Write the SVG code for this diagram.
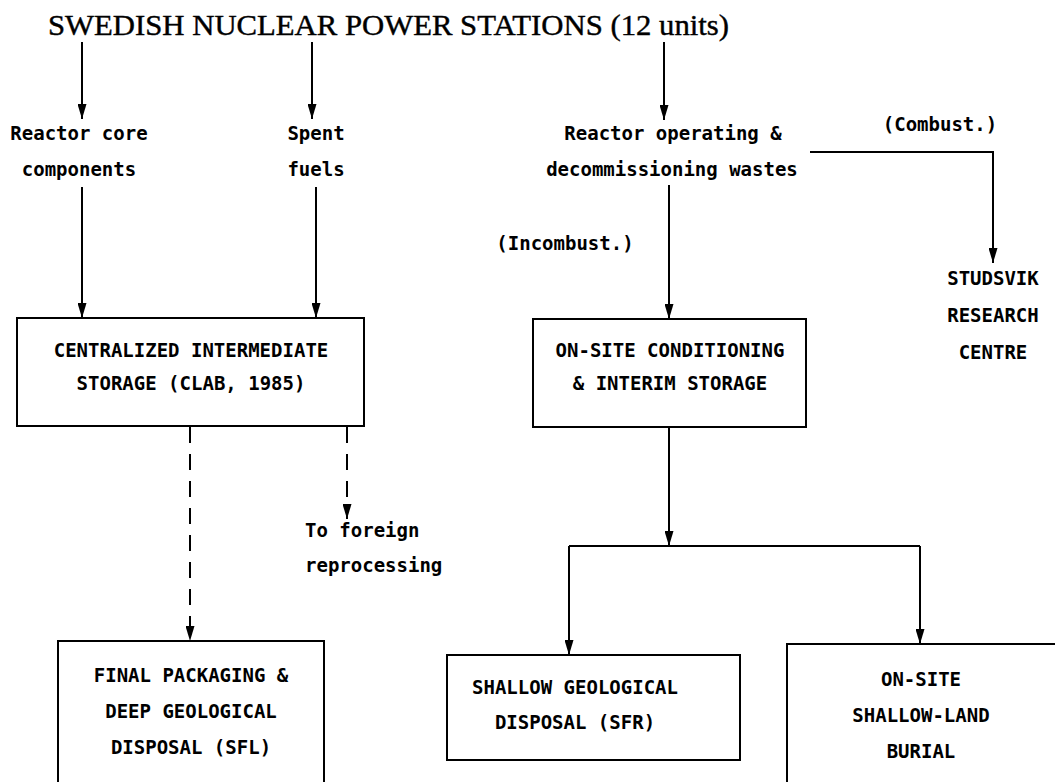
<svg xmlns="http://www.w3.org/2000/svg" width="1055" height="782" viewBox="0 0 1055 782">
  <style>
    .title { font-family: "Liberation Serif", "Times New Roman", serif; font-size: 29px; fill: #000; stroke: #000; stroke-width: 0.4; }
    .lbl { font-family: "DejaVu Sans Mono", "Liberation Mono", monospace; font-weight: bold; font-size: 19px; fill: #000; }
    .mid { text-anchor: middle; }
    .box { fill: #fff; stroke: #000; stroke-width: 2; }
    .wire { fill: none; stroke: #000; stroke-width: 2; }
    .dash { stroke-dasharray: 16 11; }
  </style>
  <defs>
    <marker id="arrow" viewBox="0 0 15 9" refX="15" refY="4.5" markerWidth="15" markerHeight="9" markerUnits="userSpaceOnUse" orient="auto">
      <path d="M0,0 L15,4.5 L0,9 z" fill="#000" stroke="none"/>
    </marker>
  </defs>
  <rect width="1055" height="782" fill="#fff"/>

  <text id="title" class="title" x="48" y="35" textLength="681" lengthAdjust="spacingAndGlyphs">SWEDISH NUCLEAR POWER STATIONS (12 units)</text>

  <g id="connectors">
    <line class="wire" x1="82" y1="42" x2="82" y2="119" marker-end="url(#arrow)"/>
    <line class="wire" x1="312" y1="42" x2="312" y2="119" marker-end="url(#arrow)"/>
    <line class="wire" x1="664" y1="42" x2="664" y2="120" marker-end="url(#arrow)"/>
    <line class="wire" x1="82" y1="187" x2="82" y2="318" marker-end="url(#arrow)"/>
    <line class="wire" x1="316" y1="187" x2="316" y2="318" marker-end="url(#arrow)"/>
    <line class="wire" x1="669" y1="185" x2="669" y2="319" marker-end="url(#arrow)"/>
    <polyline class="wire" points="810,152 993,152 993,263" marker-end="url(#arrow)"/>
    <line class="wire dash" x1="190" y1="427" x2="190" y2="641" marker-end="url(#arrow)"/>
    <line class="wire dash" x1="347" y1="427" x2="347" y2="519" marker-end="url(#arrow)"/>
    <line class="wire" x1="669" y1="428" x2="669" y2="546" marker-end="url(#arrow)"/>
    <line class="wire" x1="569" y1="546" x2="920" y2="546"/>
    <line class="wire" x1="569" y1="546" x2="569" y2="655" marker-end="url(#arrow)"/>
    <line class="wire" x1="920" y1="546" x2="920" y2="644" marker-end="url(#arrow)"/>
  </g>

  <g id="reactor-core">
    <text class="lbl mid" x="79" y="140">Reactor core</text>
    <text class="lbl mid" x="79" y="176">components</text>
  </g>
  <g id="spent-fuels">
    <text class="lbl mid" x="316" y="140">Spent</text>
    <text class="lbl mid" x="316" y="176">fuels</text>
  </g>
  <g id="operating-wastes">
    <text class="lbl mid" x="673" y="140">Reactor operating &amp;</text>
    <text class="lbl mid" x="672" y="176">decommissioning wastes</text>
  </g>
  <g id="combust-label">
    <text class="lbl mid" x="940" y="131">(Combust.)</text>
  </g>
  <g id="incombust-label">
    <text class="lbl mid" x="565" y="250">(Incombust.)</text>
  </g>
  <g id="studsvik">
    <text class="lbl mid" x="993" y="285">STUDSVIK</text>
    <text class="lbl mid" x="993" y="322">RESEARCH</text>
    <text class="lbl mid" x="993" y="359">CENTRE</text>
  </g>
  <g id="clab">
    <rect class="box" x="17" y="318" width="347" height="108"/>
    <text class="lbl mid" x="191" y="357">CENTRALIZED INTERMEDIATE</text>
    <text class="lbl mid" x="191" y="390">STORAGE (CLAB, 1985)</text>
  </g>
  <g id="onsite-conditioning">
    <rect class="box" x="533" y="319" width="273" height="108"/>
    <text class="lbl mid" x="670" y="357">ON-SITE CONDITIONING</text>
    <text class="lbl mid" x="670" y="390">&amp; INTERIM STORAGE</text>
  </g>
  <g id="foreign-reprocessing">
    <text class="lbl" x="305" y="537">To foreign</text>
    <text class="lbl" x="305" y="572">reprocessing</text>
  </g>
  <g id="sfl">
    <rect class="box" x="58" y="641" width="266" height="160"/>
    <text class="lbl mid" x="191" y="682">FINAL PACKAGING &amp;</text>
    <text class="lbl mid" x="191" y="718">DEEP GEOLOGICAL</text>
    <text class="lbl mid" x="191" y="754">DISPOSAL (SFL)</text>
  </g>
  <g id="sfr">
    <rect class="box" x="447" y="655" width="293" height="105"/>
    <text class="lbl mid" x="575" y="694">SHALLOW GEOLOGICAL</text>
    <text class="lbl mid" x="575" y="729">DISPOSAL (SFR)</text>
  </g>
  <g id="land-burial">
    <rect class="box" x="787" y="644" width="300" height="160"/>
    <text class="lbl mid" x="921" y="686">ON-SITE</text>
    <text class="lbl mid" x="921" y="722">SHALLOW-LAND</text>
    <text class="lbl mid" x="921" y="758">BURIAL</text>
  </g>
</svg>
